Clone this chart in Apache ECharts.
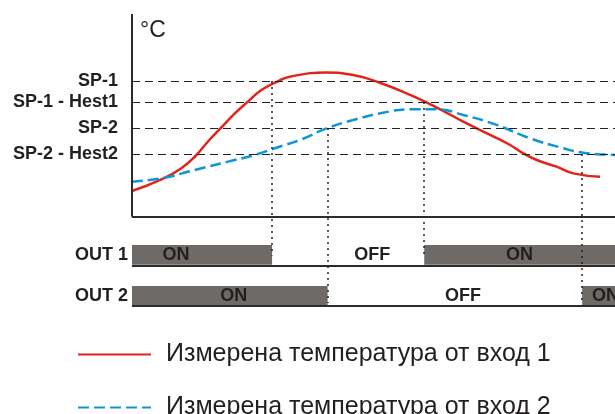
<!DOCTYPE html>
<html>
<head>
<meta charset="utf-8">
<script src="https://cdn.jsdelivr.net/npm/echarts@6/dist/echarts.min.js"></script>
<style>
html, body {margin: 0; padding: 0; background: #fff;}
#chart {width: 615px; height: 414px;}
</style>
</head>
<body>
<div id="chart"></div>
<script>
// температура, произволни единици (x: време 0..100)
var redPoints = [
    [0, 12.7], [6.1, 18.5], [10.0, 23.6], [13.0, 29.6], [15.7, 37.0], [18.2, 43.3],
    [21.3, 51.0], [24.0, 56.8], [26.8, 62.5], [30.2, 66.8], [32.7, 69.1], [40.3, 71.1],
    [45.8, 69.9], [51.3, 66.1], [57.6, 60.1], [63.8, 53.0], [68.6, 46.9], [73.4, 41.2],
    [78.3, 35.4], [81.0, 31.3], [83.8, 28.0], [87.9, 24.7], [91.4, 21.4], [96.9, 19.8]
];
var bluePoints = [
    [0, 17.3], [6.1, 19.0], [13.0, 23.1], [19.9, 27.2], [25.4, 30.5], [30.2, 34.3],
    [34.8, 37.9], [40.3, 43.6], [45.8, 47.7], [52.0, 51.3], [57.6, 53.0], [63.1, 53.0],
    [68.6, 50.2], [75.5, 45.3], [82.4, 38.7], [89.3, 33.8], [93.4, 31.6], [100, 30.5]
];
var seriesNames = ['Измерена температура от вход 1', 'Измерена температура от вход 2'];

var setpointNames = ['SP-1', 'SP-1 - Hest1', 'SP-2', 'SP-2 - Hest2'];
var setpointValues = [67, 56.6, 43.8, 31.0];

// моменти на превключване и прагът, при който става
var switchTimes = [29, 40.5, 60.5, 93.2];
var switchLevels = [67, 43.8, 56.6, 31.0];
var switchOutputs = [0, 1, 0, 1];

var outNames = ['OUT 1', 'OUT 2'];
// [начало, край, изход, 1 = ON / 0 = OFF]
var outSegments = [
    [0, 29, 0, 1], [29, 60.5, 0, 0], [60.5, 100, 0, 1],
    [0, 40.5, 1, 1], [40.5, 93.2, 1, 0], [93.2, 100, 1, 1]
];

// layout
var FONT = '"Liberation Sans", Arial, sans-serif';
var GRAY = '#6d6a68';
var INK = '#231f20';
var rows = [{top: -13.9, bottom: -24.2}, {top: -34.1, bottom: -44}];
var labelDx = [-26, 24, 0, 4, 8, 7];

var myChart = echarts.init(document.getElementById('chart'));

var guideLines = [];
// оси
guideLines.push([{coord: [0, 0]}, {coord: [0, 100]}]);
guideLines.push([{coord: [0, 0]}, {coord: [100, 0]}]);
// базови линии на изходите
rows.forEach(function(r) {
    guideLines.push([{coord: [0, r.bottom]}, {coord: [100, r.bottom]}]);
});
var axisStyle = {color: '#2b2b2b', width: 2, type: 'solid'};
guideLines = guideLines.map(function(pair) {
    pair[0].lineStyle = axisStyle;
    return pair;
});

// зададени стойности
setpointValues.forEach(function(v, i) {
    guideLines.push({
        yAxis: v,
        name: setpointNames[i],
        lineStyle: {color: '#222', width: 1, type: [8, 5]},
        label: {
            show: true, position: 'start', distance: 14, formatter: '{b}',
            color: INK, fontFamily: FONT, fontWeight: 'bold', fontSize: 18
        }
    });
});

// точкови вертикални линии
switchTimes.forEach(function(t, i) {
    var r = rows[switchOutputs[i]];
    var end = switchOutputs[i] == 0 ? (r.top + r.bottom) / 2 : r.bottom + 1.5;
    guideLines.push([
        {coord: [t, switchLevels[i]], lineStyle: {color: '#222', width: 1.5, type: [2, 4]}},
        {coord: [t, end]}
    ]);
});

function renderSegment(params, api) {
    var x0 = api.value(0), x1 = api.value(1);
    var r = rows[api.value(2)];
    var on = api.value(3) == 1;
    var p0 = api.coord([x0, r.top]);
    var p1 = api.coord([x1, r.bottom]);
    var children = [];
    if (on) {
        children.push({
            type: 'rect',
            shape: {x: p0[0], y: p0[1], width: p1[0] - p0[0], height: p1[1] - p0[1] - 1},
            style: {fill: GRAY}
        });
    }
    children.push({
        type: 'text',
        style: {
            text: on ? 'ON' : 'OFF',
            x: (p0[0] + p1[0]) / 2 + labelDx[params.dataIndex],
            y: (p0[1] + p1[1]) / 2,
            align: 'center', verticalAlign: 'middle',
            fill: INK, fontFamily: FONT, fontWeight: 'bold', fontSize: 18
        }
    });
    return {type: 'group', children: children};
}

function renderRowLabel(params, api) {
    var r = rows[api.value(0)];
    var p = api.coord([0, (r.top + r.bottom) / 2]);
    return {
        type: 'text',
        style: {
            text: outNames[api.value(0)], x: p[0] - 4, y: p[1],
            align: 'right', verticalAlign: 'middle',
            fill: INK, fontFamily: FONT, fontWeight: 'bold', fontSize: 18
        }
    };
}

myChart.setOption({
    animation: false,
    title: {
        text: '°C', left: 135, top: 14,
        textStyle: {color: INK, fontFamily: FONT, fontWeight: 'normal', fontSize: 23}
    },
    grid: {left: 132, right: 0, top: 14, bottom: 108},
    xAxis: {type: 'value', min: 0, max: 100, show: false},
    yAxis: {type: 'value', min: -44, max: 100, show: false},
    legend: {
        orient: 'vertical', left: 77, top: 342, height: 120, padding: 0, itemGap: 28,
        itemWidth: 73, itemHeight: 14,
        data: seriesNames,
        itemStyle: {opacity: 0},
        textStyle: {color: INK, fontFamily: FONT, fontSize: 25, padding: [0, 0, 0, 10]}
    },
    series: [
        {
            name: 'guides', type: 'line', data: [], z: 1, silent: true,
            markLine: {
                symbol: 'none', silent: true, animation: false,
                label: {show: false},
                data: guideLines
            }
        },
        {
            name: seriesNames[0], type: 'line', data: redPoints, z: 3,
            smooth: 0.5, symbol: 'none',
            lineStyle: {color: '#e2231a', width: 2.5},
            itemStyle: {color: '#e2231a'}
        },
        {
            name: seriesNames[1], type: 'line', data: bluePoints, z: 3,
            smooth: 0.5, symbol: 'none',
            lineStyle: {color: '#0d95d8', width: 2.5, type: [11, 5]},
            itemStyle: {color: '#0d95d8'}
        },
        {
            name: 'outputs', type: 'custom', z: 4, silent: true,
            renderItem: renderSegment, data: outSegments,
            encode: {x: [0, 1], y: 2}, clip: false
        },
        {
            name: 'outLabels', type: 'custom', z: 4, silent: true,
            renderItem: renderRowLabel, data: [[0], [1]],
            encode: {x: 0, y: 0}, clip: false
        }
    ]
});
window.onresize = myChart.resize;
</script>
</body>
</html>
